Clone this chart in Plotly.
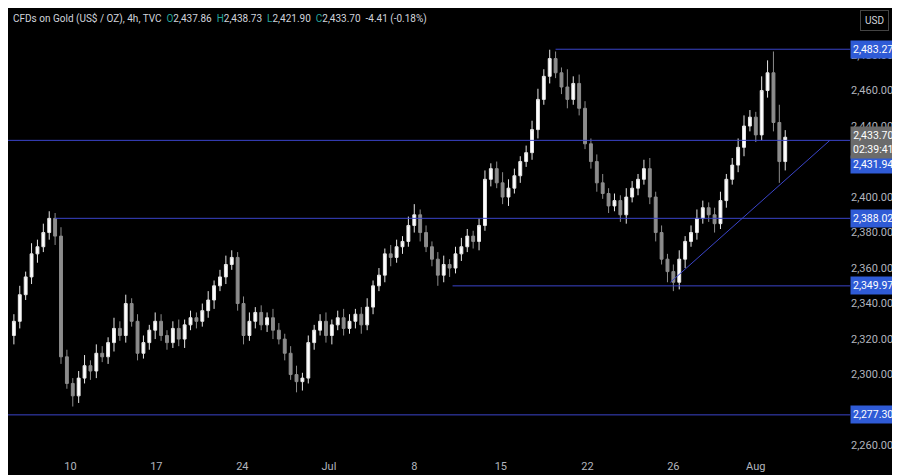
import plotly.graph_objects as go

# 4h-ish candles (closes), open = previous close
closes = [2330, 2345, 2355, 2368, 2372, 2380, 2388, 2378, 2310, 2295, 2288,
          2298, 2305, 2302, 2312, 2310, 2318, 2326, 2322, 2340, 2330, 2312,
          2318, 2325, 2330, 2322, 2318, 2326, 2320, 2328, 2332, 2330,
          2336, 2342, 2350, 2355, 2362, 2366, 2340, 2322, 2330, 2335,
          2328, 2332, 2325, 2320, 2312, 2300, 2296, 2298, 2318, 2325,
          2330, 2322, 2328, 2332, 2326, 2330, 2334, 2328, 2338, 2350,
          2356, 2368, 2366, 2372, 2375, 2384, 2390, 2380, 2372, 2365,
          2356, 2362, 2360, 2368, 2372, 2378, 2375, 2384, 2410, 2416,
          2408, 2400, 2405, 2412, 2420, 2425, 2438, 2455, 2468, 2478,
          2470, 2462, 2455, 2464, 2450, 2430, 2420, 2408, 2402, 2395,
          2398, 2390, 2400, 2405, 2410, 2416, 2400, 2380, 2365, 2358,
          2352, 2365, 2375, 2380, 2388, 2394, 2390, 2385, 2398, 2410,
          2418, 2428, 2440, 2445, 2435, 2460, 2470, 2442, 2420, 2433.7]
first_open = 2322
wick_up = [4, 5, 3, 6, 4, 5, 4, 3, 5, 4, 3, 4, 6, 3, 5, 4, 3, 6, 4, 5, 3, 4,
           4, 3, 5, 4, 3, 4, 5, 3, 4, 3, 4, 5, 3, 4, 5, 4, 3, 4, 5, 3,
           4, 3, 5, 4, 3, 4, 5, 3, 4, 3, 4, 5, 3, 4, 5, 4, 3, 4, 5, 3,
           4, 3, 5, 4, 3, 5, 6, 3, 4, 3, 4, 5, 3, 4, 5, 4, 3, 4, 5, 3,
           4, 6, 5, 4, 3, 4, 5, 6, 4, 5, 4, 3, 10, 4, 5, 4, 3, 4, 5, 3,
           4, 3, 5, 4, 3, 5, 6, 3, 4, 3, 4, 5, 3, 4, 5, 4, 3, 4, 5, 3,
           4, 5, 6, 4, 3, 8, 7, 12, 10, 4]
wick_dn = [5, 4, 3, 4, 5, 3, 4, 5, 4, 3, 6, 4, 3, 5, 4, 3, 4, 5, 3, 4, 3, 4,
           3, 4, 5, 3, 4, 3, 4, 5, 3, 4, 3, 4, 5, 3, 4, 3, 4, 5, 3, 4,
           3, 4, 5, 3, 4, 3, 6, 5, 3, 4, 3, 4, 5, 3, 4, 3, 4, 5, 3, 4,
           3, 4, 5, 3, 4, 3, 4, 5, 3, 4, 6, 4, 5, 3, 4, 3, 4, 5, 3, 4,
           3, 4, 5, 3, 4, 3, 4, 5, 3, 4, 3, 4, 5, 3, 4, 3, 4, 5, 3, 4,
           3, 4, 5, 3, 4, 3, 4, 5, 3, 6, 5, 4, 5, 3, 4, 3, 4, 5, 3, 4,
           3, 4, 5, 3, 4, 3, 4, 5, 12, 5]

tick_pos = [9.6, 24.2, 38.8, 53.5, 68, 82.7, 97.4, 112, 126]
tick_text = ["10", "17", "24", "Jul", "8", "15", "22", "26", "Aug"]
price_ticks = [2260, 2280, 2300, 2320, 2340, 2360, 2380, 2400,
               2420, 2440, 2460, 2480]

levels = [2483.27, 2431.94, 2388.02, 2349.97, 2277.30]
level_start = [92, -5, 7, 74.5, -5]
trend_x = [111.5, 138.6]
trend_y = [2352, 2432]

last_price = 2433.70
countdown = "02:39:41"

opens = [first_open] + closes[:-1]
highs = [max(o, c) + w for o, c, w in zip(opens, closes, wick_up)]
lows = [min(o, c) - w for o, c, w in zip(opens, closes, wick_dn)]
idx = list(range(len(closes)))
x_end = 142

LINE = "#3a44c9"
FONT = dict(color="white", size=10.5, family="Roboto")
fig = go.Figure()
fig.add_trace(go.Candlestick(
    x=idx, open=opens, high=highs, low=lows, close=closes,
    increasing=dict(line=dict(color="#e6e6e6", width=1), fillcolor="#ffffff"),
    decreasing=dict(line=dict(color="#8c8c8c", width=1), fillcolor="#8c8c8c"),
    whiskerwidth=0, showlegend=False, hoverinfo="skip",
))
for lv, xs in zip(levels, level_start):
    fig.add_trace(go.Scatter(x=[xs, x_end], y=[lv, lv], mode="lines",
                             line=dict(color=LINE, width=1), showlegend=False))
fig.add_trace(go.Scatter(x=trend_x, y=trend_y, mode="lines",
                         line=dict(color=LINE, width=1), showlegend=False))

anns = []
for lv in levels:
    yv = lv - 13.5 if lv == 2431.94 else lv
    anns.append(dict(x=1, xref="paper", y=yv, yref="y", xanchor="left",
                     text=f"{lv:,.2f}", showarrow=False, xshift=0,
                     font=FONT, bgcolor="#2f5bd6", borderpad=2))
anns.append(dict(x=1, xref="paper", y=last_price - 3, yref="y", xanchor="left",
                 yanchor="middle", showarrow=False, xshift=0,
                 text=f"{last_price:,.2f}<br>{countdown}", align="center",
                 font=FONT, bgcolor="#6b6b6b", borderpad=2))
anns.append(dict(x=0.003, xref="paper", y=1, yref="paper", yanchor="top",
                 xanchor="left", showarrow=False, yshift=-2,
                 text="CFDs on Gold (US$ / OZ), 4h, TVC  "
                      "<span style='color:#26a69a'>O</span>2,437.86  "
                      "<span style='color:#26a69a'>H</span>2,438.73  "
                      "<span style='color:#26a69a'>L</span>2,421.90  "
                      "<span style='color:#26a69a'>C</span>2,433.70  -4.41 (-0.18%)",
                 font=dict(color="#d1d4dc", size=10, family="Roboto")))
anns.append(dict(x=1, xref="paper", y=1, yref="paper", yanchor="top",
                 xanchor="left", showarrow=False, yshift=-2, xshift=10,
                 text="USD", bordercolor="#444", borderwidth=1, borderpad=4,
                 bgcolor="#000000",
                 font=dict(color="#d1d4dc", size=10, family="Roboto")))

fig.update_layout(
    width=900, height=475, paper_bgcolor="#000000", plot_bgcolor="#000000",
    margin=dict(l=0, r=58, t=0, b=25), annotations=anns,
    xaxis=dict(range=[-1, x_end], tickvals=tick_pos, ticktext=tick_text,
               showgrid=False, zeroline=False, rangeslider=dict(visible=False),
               tickfont=dict(color="#b2b5be", size=11, family="Roboto"),
               ticks="", showline=False),
    yaxis=dict(range=[2253, 2506.5], side="right", tickvals=price_ticks,
               tickformat=",.2f", showgrid=False, zeroline=False,
               tickfont=dict(color="#b2b5be", size=11, family="Roboto")),
)
fig.write_html("out.html")
